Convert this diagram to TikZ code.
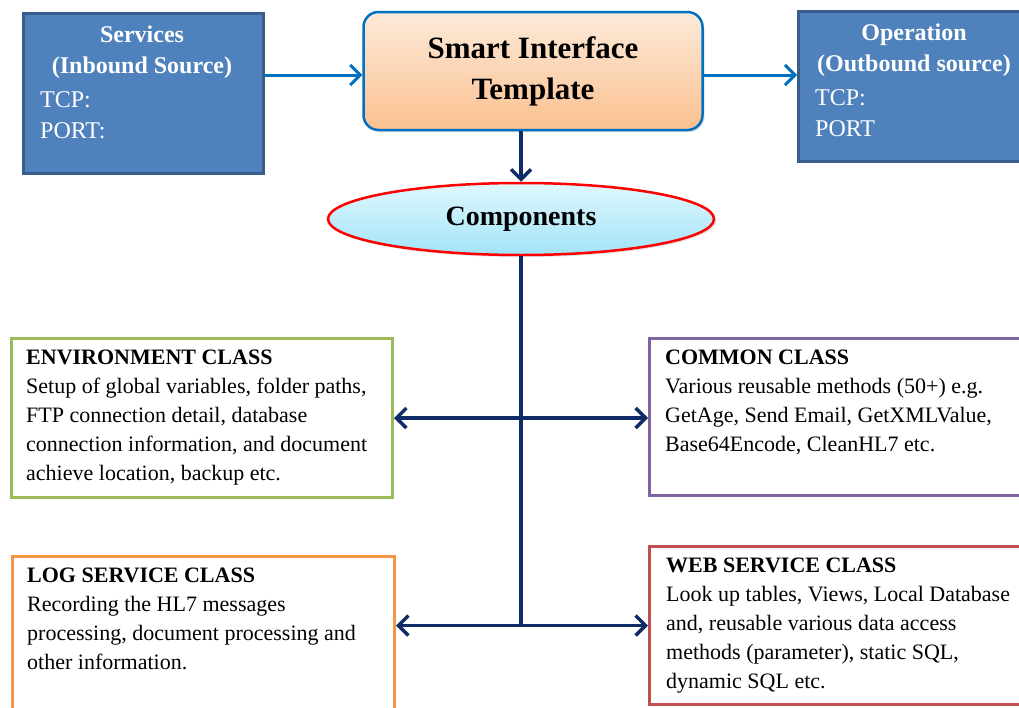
\documentclass[tikz,border=0pt]{standalone}
\usepackage{fontspec}
\setmainfont{Liberation Serif}
\usetikzlibrary{arrows.meta,positioning,shapes.geometric,calc,shadows}
\definecolor{srvblue}{HTML}{4F81BD}
\definecolor{srvedge}{HTML}{385D8A}
\definecolor{linkblue}{HTML}{0070C0}
\definecolor{navy}{HTML}{0F2C66}
\definecolor{peachtop}{HTML}{FDEADA}
\definecolor{peachbot}{HTML}{FAC08F}
\definecolor{cyantop}{HTML}{E0F7FD}
\definecolor{cyanbot}{HTML}{A2E4F9}
\definecolor{envgreen}{HTML}{9BBB59}
\definecolor{logorange}{HTML}{F79646}
\definecolor{compurple}{HTML}{8064A2}
\definecolor{webred}{HTML}{C0504D}
\tikzset{
  endpoint/.style={draw=srvedge,fill=srvblue,line width=3pt,anchor=north west,inner sep=0pt},
  endtitle/.style={text=white,font=\fontsize{24}{31}\selectfont\bfseries,align=center,
    inner sep=0pt,anchor=north},
  endinfo/.style={text=white,font=\fontsize{24}{31}\selectfont,align=left,
    inner sep=0pt,anchor=north west},
  template/.style={draw=linkblue,line width=2.5pt,rounded corners=15pt,top color=peachtop,
    bottom color=peachbot,font=\fontsize{31}{41}\selectfont\bfseries,align=center,
    minimum width=339pt,minimum height=118pt,
    drop shadow={opacity=0.25,shadow xshift=2pt,shadow yshift=-2pt}},
  hub/.style={ellipse,draw=red,line width=2.5pt,top color=cyantop,bottom color=cyanbot,
    font=\fontsize{28}{34}\selectfont\bfseries,minimum width=386pt,minimum height=72pt,
    drop shadow={opacity=0.25,shadow xshift=2pt,shadow yshift=-2pt}},
  classbox/.style={draw=#1,line width=3pt,fill=white,anchor=north west,inner sep=0pt},
  classtext/.style={font=\fontsize{22}{29}\selectfont,align=left,inner sep=0pt,
    anchor=north west},
  flowarrow/.style={-{Straight Barb[length=10pt,width=20pt]},draw=linkblue,line width=3pt},
  busline/.style={draw=navy,line width=3.5pt},
  busarrow/.style={{Straight Barb[length=10pt,width=20pt]}-{Straight Barb[length=10pt,width=20pt]},
    draw=navy,line width=3.5pt}
}
\begin{document}
\begin{tikzpicture}[x=1pt,y=-1pt]
  \clip (0,0) rectangle (1019,707);
  % inbound and outbound ends
  \node[endpoint,minimum width=240pt,minimum height=160pt] (srv) at (22,12) {};
  \node[endtitle] (srvtitle) at (142,26) {Services\\(Inbound Source)};
  \node[endinfo] (srvinfo) at (40,91) {TCP:\\PORT:};
  \node[endpoint,minimum width=224pt,minimum height=150pt] (opr) at (797,10) {};
  \node[endtitle] (oprtitle) at (914,24) {Operation\\(Outbound source)};
  \node[endinfo] (oprinfo) at (815,89) {TCP:\\PORT};
  % template and components
  \node[template] (sit) at (533,71) {Smart Interface\\Template};
  \node[hub] (comp) at (521,219) {Components};
  % classes
  \node[classbox=envgreen,minimum width=381pt,minimum height=159pt] (env) at (10,337) {};
  \node[classtext] (envtxt) at (26,350) {\textbf{ENVIRONMENT CLASS}\\
    Setup of global variables, folder paths,\\
    FTP connection detail, database\\
    connection information, and document\\
    achieve location, backup etc.};
  \node[classbox=compurple,minimum width=372pt,minimum height=157pt] (cmn) at (648,337) {};
  \node[classtext] (cmntxt) at (665,350) {\textbf{COMMON CLASS}\\
    Various reusable methods (50+) e.g.\\
    GetAge, Send Email, GetXMLValue,\\
    Base64Encode, CleanHL7 etc.};
  \node[classbox=logorange,minimum width=382pt,minimum height=170pt] (log) at (11,555) {};
  \node[classtext] (logtxt) at (27,568) {\textbf{LOG SERVICE CLASS}\\
    Recording the HL7 messages\\
    processing, document processing and\\
    other information.};
  \node[classbox=webred,minimum width=372pt,minimum height=158pt] (web) at (648,545) {};
  \node[classtext] (webtxt) at (666,558) {\textbf{WEB SERVICE CLASS}\\
    Look up tables, Views, Local Database\\
    and, reusable various data access\\
    methods (parameter), static SQL,\\
    dynamic SQL etc.};
  % connectors
  \coordinate (inrow) at ([yshift=-4pt]sit.west);
  \coordinate (outrow) at ([yshift=-4pt]sit.east);
  \draw[flowarrow] (inrow -| srv.east) -- (inrow);
  \draw[flowarrow] (outrow) -- (outrow -| opr.west);
  \draw[flowarrow,draw=navy,line width=3.5pt] (comp.north |- sit.south) -- (comp.north);
  \draw[busline] (comp.south) -- (comp.south |- web.west);
  \draw[busarrow] (env.east) -- (env.east -| cmn.west);
  \draw[busarrow] (web.west -| log.east) -- (web.west);
\end{tikzpicture}
\end{document}
